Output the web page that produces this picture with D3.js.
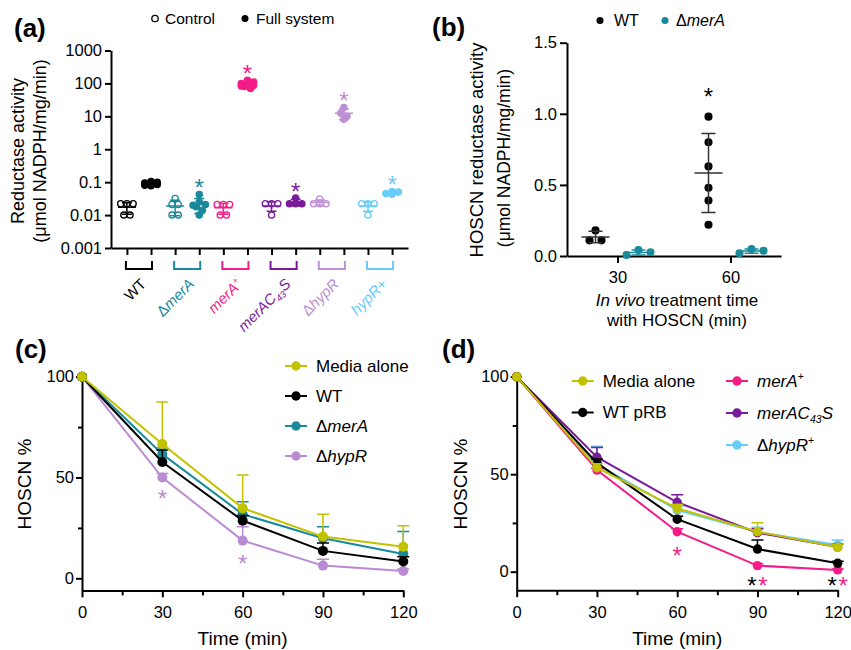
<!DOCTYPE html>
<html>
<head>
<meta charset="utf-8">
<script src="https://cdn.jsdelivr.net/npm/d3@7"></script>
<style>
body { margin: 0; background: #fff; }
svg { font-family: "Liberation Sans", Arial, Helvetica, sans-serif; }
</style>
</head>
<body>
<div id="figure"></div>
<script>
var width = 851;
var height = 650;

// ---- panel (a): reductase activity per strain
var strains = ["WT", "ΔmerA", "merA+", "merAC43S", "ΔhypR", "hypR+"];
var strainColors = ["#000000", "#1a8a9b", "#f41c87", "#7a1b9c", "#bd8fd4", "#67ccf9"];
var strainLabels = [
  [["WT"]],
  [["Δ"], ["merA", "it"]],
  [["merA", "it"], ["+", "sup"]],
  [["merAC", "it"], ["43", "sub it"], ["S", "it"]],
  [["Δ"], ["hypR", "it"]],
  [["hypR+", "it"]]
];
var controlValues = [
  [0.022, 0.022, 0.022, 0.010, 0.010],
  [0.032, 0.021, 0.021, 0.010, 0.010],
  [0.021, 0.021, 0.021, 0.010, 0.010],
  [0.022, 0.022, 0.022, 0.010],
  [0.031, 0.022, 0.022, 0.022],
  [0.022, 0.022, 0.022, 0.010]
];
var fullValues = [
  [0.105, 0.10, 0.095, 0.09, 0.085, 0.08, 0.078],
  [0.042, 0.025, 0.021, 0.020, 0.018, 0.014, 0.010],
  [125, 110, 100, 95, 88, 84, 80, 70],
  [0.033, 0.022, 0.022, 0.022],
  [18.5, 12.5, 10, 8.2],
  [0.052, 0.050, 0.045, 0.043]
];
var fullStars = [false, true, true, true, true, true];
var logTicks = [0.001, 0.01, 0.1, 1, 10, 100, 1000];

// ---- panel (b): in vivo HOSCN reductase activity
var timesB = ["30", "60"];
var groupsB = ["WT", "ΔmerA"];
var colorsB = ["#000000", "#1a8a9b"];
var barColorsB = ["#333333", "#1a8a9b"];
var valuesB = [
  [[0.18, 0.11, 0.11], [0.98, 0.80, 0.63, 0.48, 0.39, 0.22]],
  [[0.042, 0.026, 0.007], [0.049, 0.037, 0.019]]
];
var starsB = [[false, true], [false, false]];
var ticksB = [0, 0.5, 1.0, 1.5];

// ---- panels (c) and (d): HOSCN % over time
var timePoints = [0, 30, 60, 90, 120];
var minorTimes = [15, 45, 75, 105];

var labelsC = [[["Media alone"]], [["WT"]], [["Δ"], ["merA", "it"]], [["Δ"], ["hypR", "it"]]];
var colorsC = ["#c2c200", "#000000", "#1a8a9b", "#b98bd3"];
var meansC = [
  [100, 66.6, 34.8, 20.7, 15.7],
  [100, 57.7, 28.6, 13.6, 8.3],
  [100, 61.6, 31.8, 19.9, 12.1],
  [100, 50.0, 18.7, 6.3, 3.6]
];
var sdC = [
  [0, 20.9, 16.5, 11.1, 10.4],
  [0, 6.0, 2.5, 3.9, 2.4],
  [0, 3.0, 6.2, 5.7, 11.1],
  [0, 2.0, 6.9, 3.1, 1.0]
];
var starsC = [[30, 3, 42.4], [60, 3, 10.1]]; // time, series, y value

var labelsD = [
  [["Media alone"]], [["WT pRB"]], [["merA", "it"], ["+", "sup"]],
  [["merAC", "it"], ["43", "sub it"], ["S", "it"]], [["Δ"], ["hypR", "it"], ["+", "sup"]]
];
var colorsD = ["#c2c200", "#000000", "#f41c87", "#7a1b9c", "#67ccf9"];
var meansD = [
  [100, 53.3, 32.5, 20.5, 12.5],
  [100, 55.8, 26.9, 11.6, 4.3],
  [100, 52.1, 20.5, 3.1, 0.9],
  [100, 58.7, 35.6, 20.0, 12.6],
  [100, 55.0, 31.6, 20.3, 13.7]
];
var sdD = [
  [0, 2.0, 2.0, 4.6, 1.5],
  [0, 2.0, 1.5, 4.6, 1.0],
  [0, 1.0, 1.5, 1.0, 0.5],
  [0, 5.0, 3.8, 2.0, 1.5],
  [0, 9.3, 2.0, 2.5, 2.5]
];
var starsD = [[60, 2, 11.1], [90, 1, -4.5], [90, 2, -4.5], [120, 1, -4.5], [120, 2, -4.5]];

var svg = d3.select("#figure").append("svg")
  .attr("width", width).attr("height", height)
  .style("background", "#fff");

function richText(sel, parts, size, base) {
  var current = 0;
  parts.forEach(function (p) {
    var style = p[1] || "";
    var target = base;
    var ts = sel.append("tspan").text(p[0]);
    if (style.indexOf("sup") >= 0) { target = base - 0.38 * size; ts.attr("font-size", size * 0.62); }
    if (style.indexOf("sub") >= 0) { target = base + 0.25 * size; ts.attr("font-size", size * 0.62); }
    if (style.indexOf("it") >= 0) ts.attr("font-style", "italic");
    ts.attr("dy", target - current);
    current = target;
  });
}

function styleAxis(g, size) {
  g.attr("font-size", size).attr("font-family", null);
  g.selectAll("path, line").attr("stroke", "#000").attr("stroke-width", 2);
  g.selectAll("text").attr("fill", "#000");
}

function star(g, x, y, color) {
  g.append("text").attr("x", x).attr("y", y).attr("dy", "0.58em")
    .attr("text-anchor", "middle").attr("font-size", 24)
    .attr("fill", color).text("*");
}

// rows of near-equal values spread left/right like a scatter dot plot
function swarmOffsets(values, yscale, tol, gap, maxRow) {
  var order = values.map(function (v, i) { return i; })
    .sort(function (a, b) { return values[b] - values[a]; });
  var offsets = new Array(values.length);
  var row = [];
  function flush() {
    var n = row.length;
    row.forEach(function (idx, k) {
      var slot = n % 2 ? [0, 1, -1][k] : [-0.5, 0.5][k];
      offsets[idx] = slot * gap;
    });
    row = [];
  }
  order.forEach(function (i) {
    if (row.length && (Math.abs(yscale(values[i]) - yscale(values[row[0]])) > tol || row.length >= maxRow)) flush();
    row.push(i);
  });
  flush();
  return offsets;
}

function drawGroup(g, values, cx, yscale, color, barColor, filled, o) {
  var offs = swarmOffsets(values, yscale, o.tol, o.gap, 3);
  g.selectAll(null).data(values).enter().append("circle")
    .attr("cx", function (d, i) { return cx + offs[i]; })
    .attr("cy", function (d) { return yscale(d); })
    .attr("r", o.r)
    .attr("fill", filled ? color : "#fff")
    .attr("stroke", color).attr("stroke-width", 1.3);
  var m = d3.mean(values), sd = d3.deviation(values);
  var lo = yscale(Math.max(m - sd, yscale.domain()[0])), hi = yscale(m + sd), ym = yscale(m);
  g.append("path")
    .attr("d", "M" + (cx - o.mean) + "," + ym + "H" + (cx + o.mean) +
      "M" + cx + "," + lo + "V" + hi +
      "M" + (cx - o.cap) + "," + lo + "H" + (cx + o.cap) +
      "M" + (cx - o.cap) + "," + hi + "H" + (cx + o.cap))
    .attr("fill", "none").attr("stroke", barColor).attr("stroke-width", 1.5);
  return values;
}

function panelLabel(x, y, t) {
  svg.append("text").attr("x", x).attr("y", y)
    .attr("font-size", 26).attr("font-weight", "bold").text(t);
}

/* --- PANEL (a) --- */
var yA = d3.scaleLog().domain([0.001, 1000]).range([248, 50.5]);
var xA = d3.scalePoint().domain(d3.range(12)).range([111, 408]).padding(0.66);
var gA = svg.append("g");

gA.append("g").attr("transform", "translate(111,0)")
  .call(d3.axisLeft(yA).tickValues(logTicks)
    .tickFormat(function (d) { return d >= 1 ? d3.format("d")(d) : String(d); })
    .tickSize(6).tickPadding(3).tickSizeOuter(0))
  .call(styleAxis, 16.5);

gA.append("g").attr("transform", "translate(0,248)")
  .call(d3.axisBottom(xA).tickSize(7).tickSizeOuter(0).tickFormat(""))
  .call(styleAxis, 15);

var optA = { r: 3.1, gap: 6.2, tol: 5, mean: 9, cap: 5 };
strains.forEach(function (s, i) {
  var c = strainColors[i];
  var x1 = xA(2 * i) - 1, x2 = xA(2 * i + 1) + 1;
  gA.append("path").attr("d", "M" + x1 + ",261V269H" + x2 + "V261")
    .attr("fill", "none").attr("stroke", c).attr("stroke-width", 2);
  var lab = gA.append("text")
    .attr("transform", "translate(" + ((x1 + x2) / 2 + 8) + ",285) rotate(-45)")
    .attr("text-anchor", "end").attr("font-size", 15).attr("fill", c);
  richText(lab, strainLabels[i], 15, 0);

  drawGroup(gA, controlValues[i], xA(2 * i), yA, c, c, false, optA);
  drawGroup(gA, fullValues[i], xA(2 * i + 1), yA, c, c, true, optA);
  if (fullStars[i]) star(gA, xA(2 * i + 1), yA(d3.max(fullValues[i])) - 12, c);
});

// legend (a)
gA.append("circle").attr("cx", 155).attr("cy", 18.5).attr("r", 3.2)
  .attr("fill", "#fff").attr("stroke", "#000").attr("stroke-width", 1.3);
gA.append("text").attr("x", 165).attr("y", 24).attr("font-size", 15.5).text("Control");
gA.append("circle").attr("cx", 245).attr("cy", 18.5).attr("r", 3.5).attr("fill", "#000");
gA.append("text").attr("x", 256).attr("y", 24).attr("font-size", 15.5).text("Full system");

gA.append("text").attr("transform", "translate(24,151) rotate(-90)")
  .attr("text-anchor", "middle").attr("font-size", 18).text("Reductase activity");
gA.append("text").attr("transform", "translate(46,151) rotate(-90)")
  .attr("text-anchor", "middle").attr("font-size", 18).text("(μmol NADPH/mg/min)");
panelLabel(14, 37, "(a)");

/* --- PANEL (b) --- */
var yB = d3.scaleLinear().domain([0, 1.5]).range([256, 42.7]);
var xB = d3.scalePoint().domain(timesB).range([567, 781]).padding(0.447);
var subB = d3.scalePoint().domain(groupsB).range([-22, 21]);
var gB = svg.append("g");

gB.append("g").attr("transform", "translate(567,0)")
  .call(d3.axisLeft(yB).tickValues(ticksB).tickFormat(d3.format(".1f"))
    .tickSize(7).tickPadding(3).tickSizeOuter(0))
  .call(styleAxis, 16.5);
gB.append("g").attr("transform", "translate(0,256)")
  .call(d3.axisBottom(xB).tickSize(7).tickPadding(8).tickSizeOuter(0))
  .call(styleAxis, 16.5);

var optB = { r: 3.4, gap: 12, tol: 5, mean: 14, cap: 7 };
groupsB.forEach(function (grp, gi) {
  timesB.forEach(function (t, ti) {
    var cx = xB(t) + subB(grp);
    var vals = valuesB[gi][ti];
    drawGroup(gB, vals, cx, yB, colorsB[gi], barColorsB[gi], true, optB);
    if (starsB[gi][ti]) star(gB, cx, yB(d3.max(vals)) - 26, colorsB[gi]);
  });
});

// legend (b)
gB.append("circle").attr("cx", 600).attr("cy", 20.5).attr("r", 3.5).attr("fill", colorsB[0]);
gB.append("text").attr("x", 614).attr("y", 26).attr("font-size", 16).text("WT");
gB.append("circle").attr("cx", 665).attr("cy", 20.5).attr("r", 3.5).attr("fill", colorsB[1]);
richText(gB.append("text").attr("x", 676).attr("y", 26).attr("font-size", 16),
  [["Δ"], ["merA", "it"]], 16, 0);

gB.append("text").attr("transform", "translate(483,150) rotate(-90)")
  .attr("text-anchor", "middle").attr("font-size", 18.5).text("HOSCN reductase activity");
gB.append("text").attr("transform", "translate(510,158) rotate(-90)")
  .attr("text-anchor", "middle").attr("font-size", 17.5).text("(μmol NADPH/mg/min)");
richText(gB.append("text").attr("x", 677).attr("y", 306).attr("text-anchor", "middle").attr("font-size", 17),
  [["In vivo", "it"], [" treatment time"]], 17, 0);
gB.append("text").attr("x", 677).attr("y", 326).attr("text-anchor", "middle")
  .attr("font-size", 17).text("with HOSCN (min)");
panelLabel(432, 36, "(b)");

/* --- PANELS (c) and (d) --- */
function timePanel(o) {
  var g = svg.append("g");
  var x = d3.scaleLinear().domain([0, 120]).range(o.xr);
  var y = d3.scaleLinear().domain([o.ymin, 100]).range(o.yr);

  g.append("g").attr("transform", "translate(0," + y(o.ymin) + ")")
    .call(d3.axisBottom(x).tickValues(timePoints).tickSize(7).tickPadding(9).tickSizeOuter(0))
    .call(styleAxis, 16.5);
  g.append("g").attr("transform", "translate(0," + y(o.ymin) + ")")
    .call(d3.axisBottom(x).tickValues(minorTimes).tickSize(5).tickFormat("").tickSizeOuter(0))
    .call(styleAxis, 16.5)
    .select(".domain").remove();
  g.append("g").attr("transform", "translate(" + o.xr[0] + ",0)")
    .call(d3.axisLeft(y).tickValues([0, 50, 100]).tickSize(6).tickPadding(2).tickSizeOuter(0))
    .call(styleAxis, 16.5);
  g.append("g").attr("transform", "translate(" + o.xr[0] + ",0)")
    .call(d3.axisLeft(y).tickValues([25, 75]).tickSize(4).tickFormat("").tickSizeOuter(0))
    .call(styleAxis, 16.5)
    .select(".domain").remove();

  o.order.forEach(function (s) {
    var color = o.colors[s], means = o.means[s], sds = o.sds[s];
    timePoints.forEach(function (t, k) {
      if (!sds[k]) return;
      var xx = x(t), y0 = y(means[k]), y1 = y(means[k] + sds[k]);
      g.append("path")
        .attr("d", "M" + xx + "," + y0 + "V" + y1 + "M" + (xx - 6) + "," + y1 + "H" + (xx + 6))
        .attr("fill", "none").attr("stroke", color).attr("stroke-width", 1.5);
    });
    g.append("path").datum(means)
      .attr("fill", "none").attr("stroke", color).attr("stroke-width", 2)
      .attr("d", d3.line()
        .x(function (d, k) { return x(timePoints[k]); })
        .y(function (d) { return y(d); }));
    g.selectAll(null).data(means).enter().append("circle")
      .attr("cx", function (d, k) { return x(timePoints[k]); })
      .attr("cy", function (d) { return y(d); })
      .attr("r", o.r).attr("fill", color);
  });

  o.stars.forEach(function (st) {
    var same = o.stars.filter(function (q) { return q[0] === st[0]; });
    var shift = same.length > 1 ? (same.indexOf(st) === 0 ? -5.5 : 5.5) : 0;
    star(g, x(st[0]) + shift, y(st[2]), o.colors[st[1]]);
  });

  o.labels.forEach(function (lab, k) {
    var p = o.legendPos(k);
    g.append("line").attr("x1", p[0]).attr("x2", p[0] + 22).attr("y1", p[1]).attr("y2", p[1])
      .attr("stroke", o.colors[k]).attr("stroke-width", 2);
    g.append("circle").attr("cx", p[0] + 11).attr("cy", p[1]).attr("r", 4.7).attr("fill", o.colors[k]);
    richText(g.append("text").attr("x", p[0] + 31).attr("y", p[1]).attr("font-size", 17),
      lab, 17, 0.35 * 17);
  });

  g.append("text").attr("transform", "translate(" + o.ytitleX + ",484) rotate(-90)")
    .attr("text-anchor", "middle").attr("font-size", 19).text("HOSCN %");
  g.append("text").attr("x", (o.xr[0] + o.xr[1]) / 2).attr("y", 645)
    .attr("text-anchor", "middle").attr("font-size", 19).text("Time (min)");
}

timePanel({
  xr: [82, 403.3], yr: [590.4, 376.7], ymin: -6, r: 5,
  colors: colorsC, means: meansC, sds: sdC, labels: labelsC, stars: starsC,
  order: [3, 2, 1, 0], ytitleX: 30.5,
  legendPos: function (k) { return [285, 366 + k * 30]; }
});
panelLabel(15, 358, "(c)");

timePanel({
  xr: [516.7, 837.7], yr: [590.2, 376.7], ymin: -9.5, r: 4.7,
  colors: colorsD, means: meansD, sds: sdD, labels: labelsD, stars: starsD,
  order: [4, 3, 2, 1, 0], ytitleX: 467,
  legendPos: function (k) { return k < 2 ? [571.7, 381 + k * 31.5] : [726, 381 + (k - 2) * 32]; }
});
panelLabel(442, 358, "(d)");
</script>
</body>
</html>
